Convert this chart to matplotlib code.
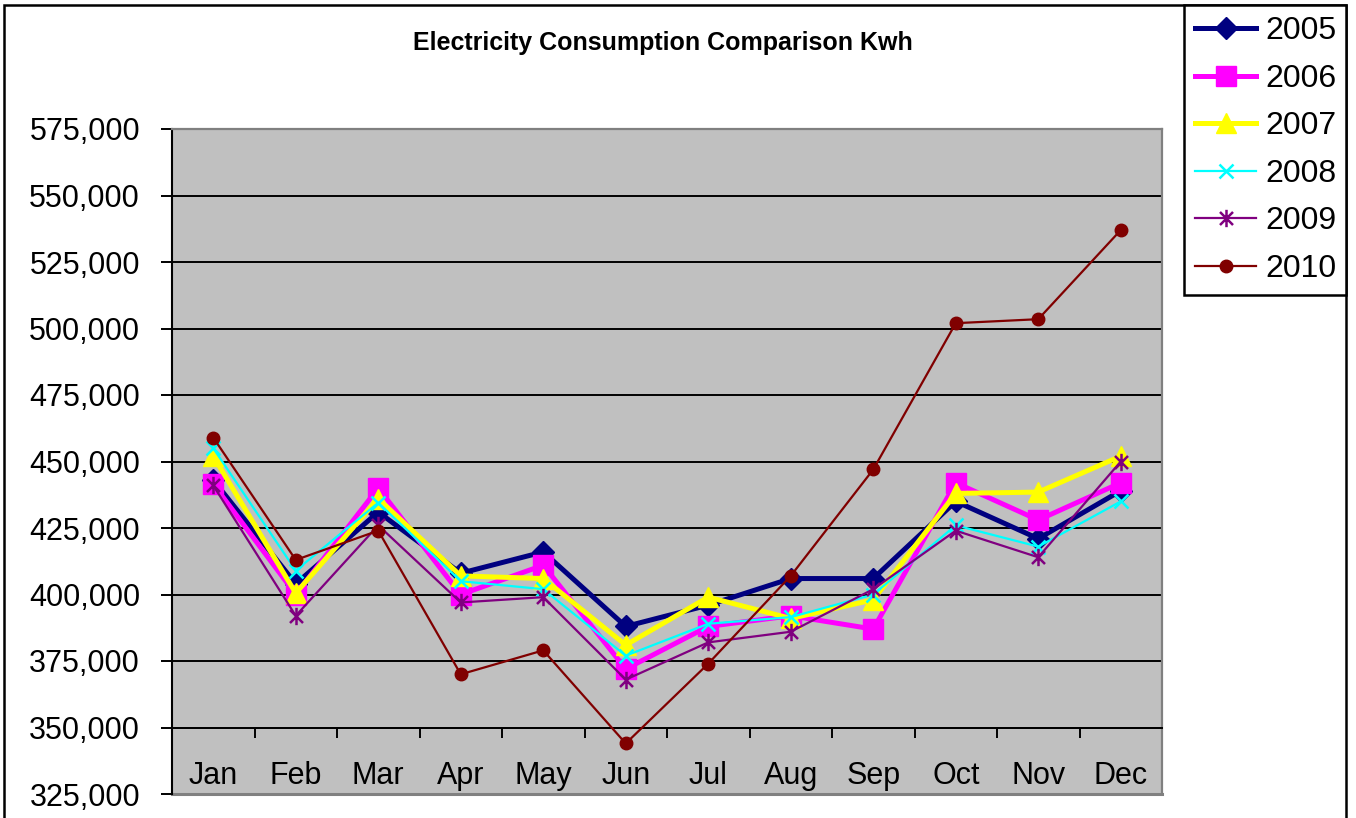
import matplotlib
matplotlib.use("Agg")
import matplotlib.pyplot as plt
from matplotlib.path import Path
from matplotlib.patches import Rectangle
from matplotlib.ticker import FuncFormatter, FixedLocator

# ---- data ----
months = ['Jan', 'Feb', 'Mar', 'Apr', 'May', 'Jun', 'Jul', 'Aug', 'Sep', 'Oct', 'Nov', 'Dec']
y2005 = [443000, 404000, 431000, 408000, 416000, 388000, 396000, 406000, 406000, 435000, 421000, 439000]
y2006 = [441500, 400000, 440000, 400000, 411000, 372000, 388000, 392000, 387000, 442000, 428000, 442000]
y2007 = [452000, 400500, 436000, 407000, 406000, 381000, 399000, 391000, 398000, 438000, 438500, 452000]
y2008 = [455000, 409000, 434500, 405000, 402000, 377000, 389000, 391500, 400000, 426000, 418000, 435000]
y2009 = [441000, 392000, 426000, 397000, 399000, 368000, 382000, 386000, 402000, 424000, 414000, 450000]
y2010 = [459000, 413000, 424000, 370000, 379000, 344000, 374000, 407000, 447000, 502000, 503500, 537000]
series_labels = ['2005', '2006', '2007', '2008', '2009', '2010']
y_ticks = [325000, 350000, 375000, 400000, 425000, 450000, 475000, 500000, 525000, 550000, 575000]
title = 'Electricity Consumption Comparison Kwh'

plt.rcParams['font.family'] = ['Liberation Sans', 'DejaVu Sans']

W, H = 1356, 818
fig = plt.figure(figsize=(W / 100, H / 100), dpi=100)
fig.patch.set_facecolor('white')

ax = fig.add_axes([172 / W, 1 - 794 / H, (1162 - 172) / W, (794 - 129) / H])
ax.set_facecolor('#C0C0C0')

# asterisk marker (vertical line + x)
star = Path([(0, -1), (0, 1), (-0.75, -0.75), (0.75, 0.75), (-0.75, 0.75), (0.75, -0.75)],
            [Path.MOVETO, Path.LINETO, Path.MOVETO, Path.LINETO, Path.MOVETO, Path.LINETO])

styles = [
    dict(color='#000080', lw=3.6, marker='D', ms=11.5, mfc='#000080', mec='#000080'),
    dict(color='#FF00FF', lw=3.6, marker='s', ms=15, mfc='#FF00FF', mec='#FF00FF'),
    dict(color='#FFFF00', lw=3.6, marker='^', ms=15, mfc='#FFFF00', mec='#FFFF00'),
    dict(color='#00FFFF', lw=1.6, marker='x', ms=10, mew=1.8, mec='#00FFFF'),
    dict(color='#800080', lw=1.6, marker=star, ms=12.5, mew=1.8, mec='#800080'),
    dict(color='#800000', lw=1.6, marker='o', ms=9, mfc='#800000', mec='#800000'),
]
data = [y2005, y2006, y2007, y2008, y2009, y2010]
x = list(range(len(months)))
for vals, lab, st in zip(data, series_labels, styles):
    ax.plot(x, vals, label=lab, zorder=3, clip_on=False, **st)

ax.set_xlim(-0.5, 11.5)
ax.set_ylim(325000, 575000)

# gridlines
for v in y_ticks[1:-1]:
    ax.axhline(v, color='black', lw=1.4, zorder=1)

# y axis
ax.yaxis.set_major_locator(FixedLocator(y_ticks))
ax.yaxis.set_major_formatter(FuncFormatter(lambda v, p: f'{v:,.0f}'))
ax.tick_params(axis='y', direction='out', length=8, width=1.4, pad=15, labelsize=22, colors='black')

# x axis crossing at 350,000
ax.spines['bottom'].set_position(('data', 350000))
ax.spines['bottom'].set_color('black')
ax.spines['bottom'].set_linewidth(1.4)
ax.xaxis.set_major_locator(FixedLocator([i - 0.5 for i in range(len(months) + 1)]))
ax.xaxis.set_major_formatter(FuncFormatter(lambda v, p: ''))
ax.xaxis.set_minor_locator(FixedLocator(x))
ax.set_xticklabels(months, minor=True)
ax.tick_params(axis='x', which='major', direction='out', length=7, width=1.4)
ax.tick_params(axis='x', which='minor', length=0, pad=24, labelsize=22)

ax.spines['left'].set_color('black')
ax.spines['left'].set_linewidth(1.5)
for s in ['top', 'right']:
    ax.spines[s].set_color('#808080')
    ax.spines[s].set_linewidth(1.6)
ax.axhline(325000, color='#808080', lw=2.2, zorder=2, clip_on=False)

# title
fig.text(663 / W, 1 - 43 / H, title, ha='center', va='center', fontsize=18, fontweight='bold')

# outer chart border
fig.add_artist(Rectangle((4 / W, -0.05), (1346 - 4) / W, 1.05 - 5 / H,
                         transform=fig.transFigure, fill=False, ec='black', lw=1.8))

# legend
leg = fig.legend(loc='upper left', bbox_to_anchor=(1184 / W, 1 - 5 / H, (1346 - 1184) / W, 0.0),
                 mode='expand', borderaxespad=0, fontsize=23, frameon=True, fancybox=False,
                 edgecolor='black', handlelength=1.9, handletextpad=0.3, labelspacing=0.55,
                 borderpad=0.35, numpoints=1)
leg.get_frame().set_linewidth(1.8)
leg.get_frame().set_alpha(1)

fig.savefig('out.png', dpi=100, facecolor='white')
